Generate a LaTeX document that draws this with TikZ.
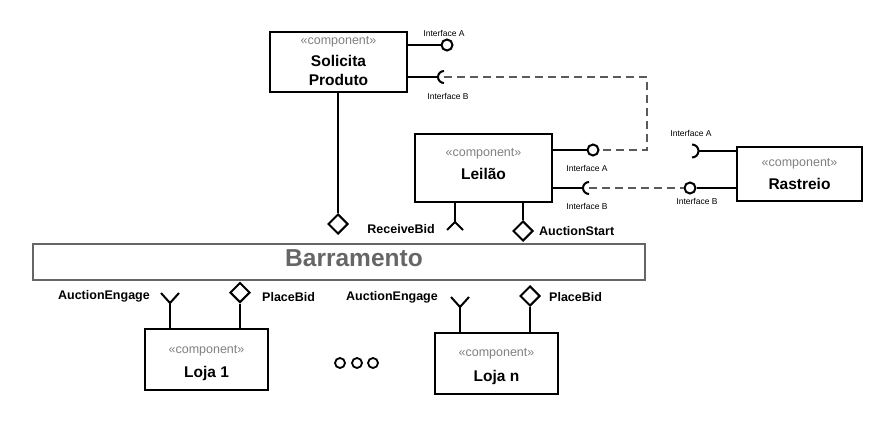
\documentclass[tikz,border=0pt]{standalone}
\usepackage{fontspec}
\setmainfont{Liberation Sans}
\usetikzlibrary{shapes.geometric}
\definecolor{stereogray}{HTML}{808080}
\definecolor{busgray}{HTML}{666666}
\definecolor{dashgray}{HTML}{5A5A5A}
\begin{document}
\begin{tikzpicture}[x=1pt,y=-1pt,
  compbox/.style={draw=black,line width=2pt,rectangle,inner sep=0pt},
  conn/.style={draw=black,line width=2pt},
  dashline/.style={draw=dashgray,line width=1.6pt,dash pattern=on 8pt off 5pt},
  stereo/.style={text=stereogray,font=\fontsize{12.5}{14}\selectfont,inner sep=0pt,anchor=mid},
  cname/.style={font=\fontsize{15.5}{18}\selectfont\bfseries,inner sep=0pt,anchor=mid},
  lbl/.style={font=\fontsize{12.5}{14}\selectfont\bfseries,inner sep=0pt},
  ifl/.style={font=\fontsize{8.5}{10}\selectfont,inner sep=0pt},
  lolli/.style={draw=black,line width=2pt,circle,inner sep=0pt,minimum size=11pt},
  portdia/.style={draw=black,line width=2pt,diamond,inner sep=0pt,minimum width=20pt,minimum height=20pt},
  dot/.style={draw=black,line width=1.8pt,circle,inner sep=0pt,minimum size=10pt}
]
\useasboundingbox (0,0) rectangle (890,442);

% components
\node[compbox,minimum width=137pt,minimum height=60pt] (sol) at (338.5,62) {};
\node[stereo] (solst) at (338.5,42) {«component»};
\node[cname] (soln1) at (338.5,64) {Solicita};
\node[cname] (soln2) at (338.5,83) {Produto};

\node[compbox,minimum width=137pt,minimum height=68pt] (lei) at (483.5,168) {};
\node[stereo] (leist) at (483.5,154) {«component»};
\node[cname] (lein) at (483.5,177) {Leilão};

\node[compbox,minimum width=125pt,minimum height=54pt] (ras) at (799.5,174) {};
\node[stereo] (rasst) at (799.5,164) {«component»};
\node[cname] (rasn) at (799.5,187) {Rastreio};

\node[compbox,minimum width=123pt,minimum height=61pt] (l1) at (206.5,359.5) {};
\node[stereo] (l1st) at (206.5,351) {«component»};
\node[cname] (l1n) at (206.5,375) {Loja 1};

\node[compbox,minimum width=123pt,minimum height=61pt] (ln) at (496.5,363.5) {};
\node[stereo] (lnst) at (496.5,354) {«component»};
\node[cname] (lnn) at (496.5,379) {Loja n};

% bus
\node[draw=busgray,line width=2pt,rectangle,inner sep=0pt,minimum width=612pt,minimum height=36pt] (bus) at (339,262) {};
\node[text=busgray,font=\fontsize{24.5}{28}\selectfont\bfseries,inner sep=0pt,anchor=mid] (bust) at (354,264) {Barramento};

% Solicita Produto interfaces
\node[lolli] (sA) at (447,45) {};
\draw[conn] (sol.east |- sA) -- (sA.west);
\node[ifl] (sAl) at (444,33) {Interface A};
\coordinate (sBc) at (444,77);
\draw[conn] (sol.east |- sBc) -- ([xshift=-6pt]sBc);
\draw[conn] ([yshift=6pt]sBc) arc[start angle=90,end angle=270,radius=6pt];
\node[ifl] (sBl) at (448,96) {Interface B};

% Leilao interfaces
\node[lolli] (lA) at (593,150) {};
\draw[conn] (lei.east |- lA) -- (lA.west);
\node[ifl] (lAl) at (587,168) {Interface A};
\coordinate (lBc) at (589,188);
\draw[conn] (lei.east |- lBc) -- ([xshift=-6pt]lBc);
\draw[conn] ([yshift=6pt]lBc) arc[start angle=90,end angle=270,radius=6pt];
\node[ifl] (lBl) at (587,206) {Interface B};

% Rastreio interfaces
\coordinate (rAc) at (692,151);
\draw[conn] ([yshift=-6.5pt]rAc) arc[start angle=-90,end angle=90,radius=6.5pt];
\draw[conn] ([xshift=6.5pt]rAc) -- (ras.west |- rAc);
\node[ifl] (rAl) at (691,133) {Interface A};
\node[lolli] (rB) at (690,188) {};
\draw[conn] (rB.east) -- (ras.west |- rB);
\node[ifl] (rBl) at (697,201) {Interface B};

% dashed assemblies
\coordinate (t1) at (647,77);
\coordinate (t2) at (647,150);
\draw[dashline] (sBc) -- (t1) -- (t2) -- (lA.east);
\draw[dashline] (lBc) -- (rB.west);

% Solicita port to bus
\node[portdia] (d0) at (338,224) {};
\draw[conn] (d0.north) -- (d0.north |- sol.south);

% Leilao ports
\coordinate (f1) at (455,222);
\draw[conn] (f1 |- lei.south) -- (f1);
\draw[conn] ([shift={(-8,8)}]f1) -- (f1) -- ([shift={(8,8)}]f1);
\node[lbl,anchor=east] (rbl) at (435,229) {ReceiveBid};
\node[portdia] (d1) at (523,231) {};
\draw[conn] (d1.north) -- (d1.north |- lei.south);
\node[lbl,anchor=west] (asl) at (539,231) {AuctionStart};

% Loja 1 ports
\coordinate (f2) at (170,303);
\draw[conn] (f2) -- (f2 |- l1.north);
\draw[conn] ([shift={(-9,-10)}]f2) -- (f2) -- ([shift={(9,-10)}]f2);
\node[lbl,anchor=east] (ae1) at (150,296) {AuctionEngage};
\node[portdia] (d2) at (240,292.5) {};
\draw[conn] (d2.south) -- (d2.south |- l1.north);
\node[lbl,anchor=west] (pb1) at (262,297) {PlaceBid};

% Loja n ports
\coordinate (f3) at (460,307);
\draw[conn] (f3) -- (f3 |- ln.north);
\draw[conn] ([shift={(-9,-10)}]f3) -- (f3) -- ([shift={(9,-10)}]f3);
\node[lbl,anchor=east] (ae2) at (438,297) {AuctionEngage};
\node[portdia] (d3) at (530,296) {};
\draw[conn] (d3.south) -- (d3.south |- ln.north);
\node[lbl,anchor=west] (pb2) at (549,297) {PlaceBid};

% ellipsis circles
\node[dot] (e1) at (340,363) {};
\node[dot] (e2) at (357,363) {};
\node[dot] (e3) at (373,363) {};
\end{tikzpicture}
\end{document}
